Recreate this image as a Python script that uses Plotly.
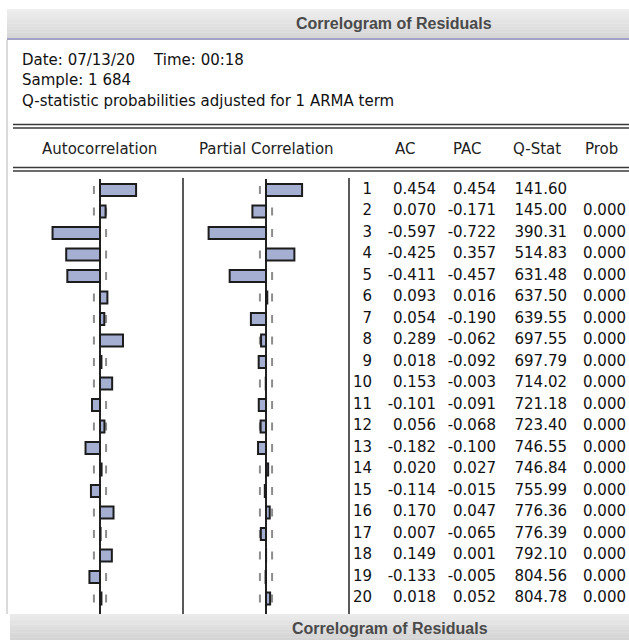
import math
import plotly.graph_objects as go

# ---------------- data ----------------
lags = list(range(1, 21))
ac = [0.454, 0.070, -0.597, -0.425, -0.411, 0.093, 0.054, 0.289, 0.018, 0.153,
      -0.101, 0.056, -0.182, 0.020, -0.114, 0.170, 0.007, 0.149, -0.133, 0.018]
pac = [0.454, -0.171, -0.722, 0.357, -0.457, 0.016, -0.190, -0.062, -0.092, -0.003,
       -0.091, -0.068, -0.100, 0.027, -0.015, 0.047, -0.065, 0.001, -0.005, 0.052]
qstat = [141.60, 145.00, 390.31, 514.83, 631.48, 637.50, 639.55, 697.55, 697.79, 714.02,
         721.18, 723.40, 746.55, 746.84, 755.99, 776.36, 776.39, 792.10, 804.56, 804.78]
prob = [None, 0.000, 0.000, 0.000, 0.000, 0.000, 0.000, 0.000, 0.000, 0.000,
        0.000, 0.000, 0.000, 0.000, 0.000, 0.000, 0.000, 0.000, 0.000, 0.000]
col_headers = ["AC", "PAC", "Q-Stat", "Prob"]
panel_headers = ["Autocorrelation", "Partial Correlation"]
title = "Correlogram of Residuals"
info_lines = ["Date: 07/13/20\u00a0\u00a0\u00a0\u00a0Time: 00:18",
              "Sample: 1 684",
              "Q-statistic probabilities adjusted for 1 ARMA term"]
n_obs = 684

# ---------------- layout helpers ----------------
W, H = 629, 640
FONT = "DejaVu Sans"


def px(x):
    return x / W


def py(y):
    return 1 - y / H


band = 2 / math.sqrt(n_obs)

# plot area geometry (pixels)
Y_TOP, Y_BOT = 179, 614
ROW0, ROWSTEP = 190, 21.5
y_range = [20 + (Y_BOT - (ROW0 + 19 * ROWSTEP)) / ROWSTEP,
           1 - (ROW0 - Y_TOP) / ROWSTEP]
ACF_DOM = [px(20.5), px(179.5)]
PACF_DOM = [px(186.5), px(345.5)]
TBL_DOM = [px(349), 1.0]
COL_RIGHT = [372, 436, 496, 567, 626]  # lag, AC, PAC, Q, Prob right edges
HDR_CENTER = [405, 467, 537, 601]

fig = go.Figure()

bar_style = dict(color="#a5afd1", line=dict(color="#1c1c1c", width=2))
fig.add_trace(go.Bar(x=ac, y=lags, orientation="h", width=0.55, marker=bar_style,
                     xaxis="x", yaxis="y", hoverinfo="skip"))
fig.add_trace(go.Bar(x=pac, y=lags, orientation="h", width=0.55, marker=bar_style,
                     xaxis="x2", yaxis="y", hoverinfo="skip"))

txtfont = dict(family=FONT, size=15, color="#111111")
columns = [
    [str(v) for v in lags],
    [f"{v:.3f}" for v in ac],
    [f"{v:.3f}" for v in pac],
    [f"{v:.2f}" for v in qstat],
    ["" if v is None else f"{v:.3f}" for v in prob],
]
for xr, col in zip(COL_RIGHT, columns):
    fig.add_trace(go.Scatter(x=[xr] * len(lags), y=lags, mode="text", text=col,
                             textposition="middle left", textfont=txtfont,
                             cliponaxis=False,
                             xaxis="x3", yaxis="y", hoverinfo="skip"))

shapes = []
# confidence band dashes, one per row
for ax in ("x", "x2"):
    for lg in lags:
        for s in (-1, 1):
            shapes.append(dict(type="line", xref=ax, yref="y", x0=s * band, x1=s * band,
                               y0=lg - 0.19, y1=lg + 0.19, layer="below",
                               line=dict(color="#8c8c8c", width=2)))


def grad_bar(y0, y1, x0, c_top, c_bot, steps=10):
    out = []
    h = (y1 - y0) / steps
    for i in range(steps):
        t = i / (steps - 1)
        c = [round(c_top[k] + (c_bot[k] - c_top[k]) * t) for k in range(3)]
        out.append(dict(type="rect", xref="paper", yref="paper",
                        x0=px(x0), x1=1, y0=py(y0 + i * h), y1=py(y0 + (i + 1) * h + 0.3),
                        line=dict(width=0), fillcolor=f"rgb({c[0]},{c[1]},{c[2]})",
                        layer="below"))
    return out


shapes += grad_bar(9, 38, 7, (238, 238, 238), (214, 214, 214))
shapes.append(dict(type="rect", xref="paper", yref="paper", x0=px(7), x1=1,
                   y0=py(38), y1=py(40), line=dict(width=0), fillcolor="#a2a2c6"))
shapes += grad_bar(614, 640, 10, (234, 234, 234), (212, 212, 212))
# left window border
shapes.append(dict(type="line", xref="paper", yref="paper", x0=px(7), x1=px(7),
                   y0=py(40), y1=py(614), line=dict(color="#cfcfcf", width=1.5)))
# double rules
for yy in (124.5, 128, 167.5, 171):
    shapes.append(dict(type="line", xref="paper", yref="paper", x0=px(13), x1=1,
                       y0=py(yy), y1=py(yy), line=dict(color="#3a3a3a", width=1.5)))
# column separators
for xx in (183, 349):
    shapes.append(dict(type="line", xref="paper", yref="paper", x0=px(xx), x1=px(xx),
                       y0=py(178), y1=py(614), line=dict(color="#222222", width=1.5)))

ann = []
tfont = dict(family="Liberation Sans", size=16, color="#4a4a4a")
ann.append(dict(text=f"<b>{title}</b>", x=px(394), y=py(23.5), xref="paper", yref="paper",
                showarrow=False, font=tfont, xanchor="center", yanchor="middle"))
ann.append(dict(text=f"<b>{title}</b>", x=px(390), y=py(628), xref="paper", yref="paper",
                showarrow=False, font=tfont, xanchor="center", yanchor="middle"))
for i, line in enumerate(info_lines):
    ann.append(dict(text=line, x=px(20), y=py(60 + 20.5 * i), xref="paper", yref="paper",
                    showarrow=False, font=dict(family=FONT, size=15, color="#111111"),
                    xanchor="left", yanchor="middle"))
for name, cx in zip(panel_headers, (99, 266)):
    ann.append(dict(text=name, x=px(cx), y=py(149), xref="paper", yref="paper",
                    showarrow=False, font=dict(family=FONT, size=15, color="#222222"),
                    xanchor="center", yanchor="middle"))
for name, cx in zip(col_headers, HDR_CENTER):
    ann.append(dict(text=name, x=px(cx), y=py(149), xref="paper", yref="paper",
                    showarrow=False, font=dict(family=FONT, size=15, color="#222222"),
                    xanchor="center", yanchor="middle"))

hidden = dict(showgrid=False, showticklabels=False, ticks="", showline=False)
fig.update_layout(
    width=W, height=H, margin=dict(l=0, r=0, t=0, b=0),
    paper_bgcolor="white", plot_bgcolor="rgba(0,0,0,0)",
    showlegend=False, barmode="overlay",
    xaxis=dict(domain=ACF_DOM, range=[-1, 1], zeroline=True, zerolinecolor="#222222",
               zerolinewidth=1.5, anchor="y", **hidden),
    xaxis2=dict(domain=PACF_DOM, range=[-1, 1], zeroline=True, zerolinecolor="#222222",
                zerolinewidth=1.5, anchor="y", **hidden),
    xaxis3=dict(domain=TBL_DOM, range=[349, 629], zeroline=False, anchor="y", **hidden),
    yaxis=dict(domain=[py(Y_BOT), py(Y_TOP)], range=y_range, zeroline=False, **hidden),
    shapes=shapes, annotations=ann,
)

fig.write_html("out.html", config={"displayModeBar": False},
               post_script="document.body.style.margin='0';document.body.style.overflow='hidden';")
